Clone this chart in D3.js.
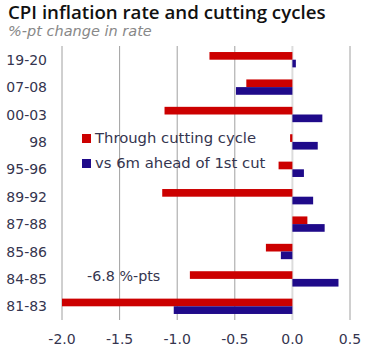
<!DOCTYPE html>
<html>
<head>
<meta charset="utf-8">
<script src="https://cdn.jsdelivr.net/npm/d3@7"></script>
<style>
  body { margin: 0; background: #fff; }
  svg text { font-family: "DejaVu Sans", "Noto Sans", sans-serif; }
</style>
</head>
<body>
<div id="chart"></div>
<script>
// data, top row first
let cycles = ['19-20', '07-08', '00-03', '98', '95-96', '89-92', '87-88', '85-86', '84-85', '81-83'];
let throughCycle = [-0.72, -0.40, -1.11, -0.02, -0.12, -1.13, 0.13, -0.23, -0.89, -6.8];
let aheadOfCut = [0.03, -0.49, 0.26, 0.22, 0.10, 0.18, 0.28, -0.10, 0.40, -1.03];
let xTicks = [-2.0, -1.5, -1.0, -0.5, 0.0, 0.5];
let seriesNames = ['Through cutting cycle', 'vs 6m ahead of 1st cut'];
let seriesColors = ['#cc0000', '#1f0a8a'];

let width = 374, height = 353,
    margin = {left: 62, top: 46, right: 24, bottom: 33},
    textColor = '#35354f',
    fmt = d => d3.format('.1f')(d).replace('\u2212', '-');

let svg = d3.select('#chart').append('svg')
    .attr('width', width)
    .attr('height', height);

let xScale = d3.scaleLinear()
    .domain([-2.0, 0.5])
    .range([margin.left, 350]);

let yScale = d3.scaleBand()
    .domain(cycles)
    .range([margin.top, height - margin.bottom])
    .paddingInner(0.44)
    .paddingOuter(0.22);

// title
svg.append('text')
    .attr('x', 8).attr('y', 19)
    .style('font-family', '"Open Sans", sans-serif')
    .style('font-size', '18.7px').style('font-weight', 600)
    .style('fill', '#111')
    .text('CPI inflation rate and cutting cycles');

svg.append('text')
    .attr('x', 8).attr('y', 36)
    .style('font-size', '14.5px').style('font-style', 'italic')
    .style('fill', '#888')
    .text('%-pt change in rate');

// grid
let grid_g = svg.append('g').attr('class', 'grid');
grid_g.selectAll('line')
    .data(xTicks)
    .join('line')
    .attr('x1', d => xScale(d)).attr('x2', d => xScale(d))
    .attr('y1', margin.top).attr('y2', height - margin.bottom)
    .style('stroke', d => d === 0 ? '#dcdcdc' : '#a0a0a0')
    .style('stroke-width', d => d === 0 ? 2 : 1);

// bars
let barH = yScale.bandwidth() / 2;
let bar_g = svg.append('g').attr('class', 'bars');
[throughCycle, aheadOfCut].forEach(function (vals, s) {
    bar_g.selectAll('.s' + s)
        .data(vals)
        .join('rect')
        .attr('class', 's' + s)
        .attr('x', d => xScale(Math.max(Math.min(d, 0), -2.0)))
        .attr('y', (d, i) => yScale(cycles[i]) + s * barH)
        .attr('width', d => Math.abs(xScale(Math.max(d, -2.0)) - xScale(0)))
        .attr('height', barH)
        .style('fill', seriesColors[s]);
});

// category labels
svg.append('g')
    .selectAll('text')
    .data(cycles)
    .join('text')
    .attr('x', 47)
    .attr('y', d => yScale(d) + yScale.bandwidth() / 2 + 5)
    .attr('text-anchor', 'end')
    .style('font-size', '14px')
    .style('fill', textColor)
    .text(d => d);

// x tick labels
svg.append('g')
    .selectAll('text')
    .data(xTicks)
    .join('text')
    .attr('x', d => xScale(d))
    .attr('y', 344)
    .attr('text-anchor', 'middle')
    .style('font-size', '14px')
    .style('fill', textColor)
    .text(fmt);

// legend
let legend_g = svg.append('g').attr('class', 'legend');
seriesNames.forEach(function (name, i) {
    legend_g.append('rect')
        .attr('x', 82).attr('y', 134 + i * 25)
        .attr('width', 9).attr('height', 9)
        .style('fill', seriesColors[i]);
    legend_g.append('text')
        .attr('x', 95).attr('y', 143 + i * 25)
        .style('font-size', '14.8px')
        .style('fill', textColor)
        .text(name);
});

// note for the clipped bar
svg.append('text')
    .attr('x', 87).attr('y', 281)
    .style('font-size', '14.3px')
    .style('fill', textColor)
    .text(`${fmt(throughCycle[9])} %-pts`);
</script>
</body>
</html>
